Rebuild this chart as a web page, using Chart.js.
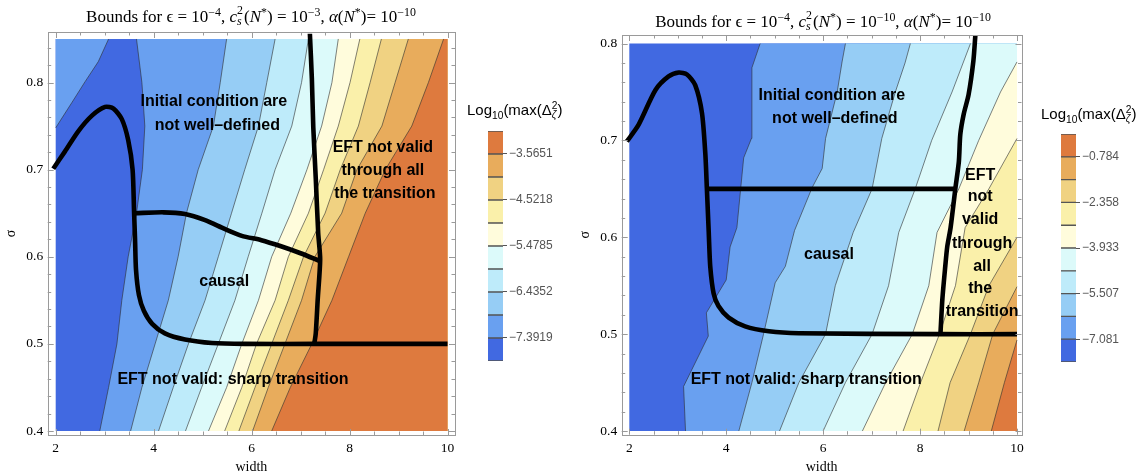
<!DOCTYPE html>
<html>
<head>
<meta charset="utf-8">
<script src="https://cdn.jsdelivr.net/npm/chart.js@4.4.1/dist/chart.umd.min.js"></script>
<style>
  html, body { margin: 0; padding: 0; background: #fff; }
  #wrap { position: relative; width: 1138px; height: 474px; overflow: hidden; background: #fff; }
  canvas { position: absolute; }
  .ptitle { position: absolute; font-family: "Liberation Serif", "Times New Roman", serif; font-size: 17px; white-space: nowrap; transform: translateX(-50%); line-height: 1; color: #000; }
  .ptitle sup, .ptitle sub { font-size: 70%; line-height: 0; }
  .ss { display: inline-block; vertical-align: -0.25em; line-height: 0.95; font-size: 70%; margin-right: 1px; }
  .ss span { display: block; }
  .ltitle { position: absolute; font-family: "Liberation Sans", Arial, sans-serif; font-size: 15px; white-space: nowrap; line-height: 1; color: #000; }
  .ltitle sub, .ltitle sup { font-size: 68%; line-height: 0; }
  .zz { display: inline-block; vertical-align: -0.3em; line-height: 0.9; font-size: 68%; }
  .zz span { display: block; }
</style>
</head>
<body>
<div id="wrap">
  <canvas id="mainL" width="462" height="474" style="left:0;top:0"></canvas>
  <canvas id="mainR" width="460" height="474" style="left:570px;top:0"></canvas>
  <canvas id="legL" width="100" height="290" style="left:470px;top:100px"></canvas>
  <canvas id="legR" width="98" height="290" style="left:1040px;top:100px"></canvas>

  <div class="ptitle" style="left:251px;top:5px">Bounds for ϵ = 10<sup>−4</sup>, <i>c</i><span class="ss"><span>2</span><span><i>s</i></span></span>(<i>N</i><sup>*</sup>) = 10<sup>−3</sup>, <i>α</i>(<i>N</i><sup>*</sup>)= 10<sup>−10</sup></div>
  <div class="ptitle" style="left:823px;top:10px">Bounds for ϵ = 10<sup>−4</sup>, <i>c</i><span class="ss"><span>2</span><span><i>s</i></span></span>(<i>N</i><sup>*</sup>) = 10<sup>−10</sup>, <i>α</i>(<i>N</i><sup>*</sup>)= 10<sup>−10</sup></div>

  <div class="ltitle" style="left:467px;top:101px">Log<sub>10</sub>(max(Δ<span class="zz"><span>2</span><span><i>ζ</i></span></span>)</div>
  <div class="ltitle" style="left:1041px;top:105px">Log<sub>10</sub>(max(Δ<span class="zz"><span>2</span><span><i>ζ</i></span></span>)</div>
</div>

<script>
// ===================== DATA =====================
// band colours, lowest level (blue) to highest (orange)
const bandColors = ['#4169E1', '#69A0F0', '#96CDF5', '#BEEBFA', '#DCFAFA',
                    '#FFFCDC', '#FAF0AA', '#F0D282', '#E8AC5C', '#DE7A3E'];

// axis ticks
const xTickValues = [2, 4, 6, 8, 10];
const xTickLabels = ['2', '4', '6', '8', '10'];
const yTickValues = [0.4, 0.5, 0.6, 0.7, 0.8];
const yTickLabels = ['0.4', '0.5', '0.6', '0.7', '0.8'];

// data domains
const leftXRange = [2, 10];
const leftYRange = [0.4, 0.85];
const rightXRange = [2, 10];
const rightYRange = [0.4, 0.8];

// ---- left panel: contour boundaries, x positions at these sigma levels ----
const leftLevelsY = [0.40, 0.45, 0.50, 0.55, 0.60, 0.65, 0.70, 0.75, 0.80, 0.85];
const leftC1X = [2.90, 3.08, 3.25, 3.35, 3.48, 3.65, 3.77, 3.82, 3.76, 3.65];
const leftC2X = [3.53, 3.76, 4.03, 4.30, 4.50, 4.67, 4.91, 5.22, 5.36, 5.49];
const leftC3X = [4.10, 4.40, 4.71, 5.05, 5.32, 5.59, 5.86, 6.14, 6.31, 6.48];
const leftC4X = [4.65, 4.98, 5.32, 5.66, 5.93, 6.21, 6.48, 6.82, 7.02, 7.16];
const leftC5X = [5.12, 5.49, 5.80, 6.14, 6.41, 6.80, 7.13, 7.43, 7.64, 7.77];
const leftC6X = [5.45, 5.80, 6.10, 6.48, 6.75, 7.16, 7.47, 7.77, 8.01, 8.21];
const leftC7X = [5.74, 6.07, 6.41, 6.75, 7.06, 7.50, 7.81, 8.18, 8.42, 8.65];
const leftC8X = [6.02, 6.34, 6.68, 7.02, 7.29, 7.84, 8.15, 8.66, 8.93, 9.20];
const leftC9X = [6.41, 6.79, 7.23, 7.64, 7.98, 8.32, 8.73, 9.27, 9.61, 9.92];
// upper-left corner lobe (second band)
const leftLobe = [[2.00, 0.748], [2.33, 0.777], [2.60, 0.801], [2.87, 0.824], [3.08, 0.85]];

// ---- left panel: black region boundaries ----
const leftBoundA = [[1.95, 0.701], [2.19, 0.721], [2.46, 0.744], [2.74, 0.762], [3.01, 0.772], [3.18, 0.770],
                    [3.35, 0.758], [3.48, 0.734], [3.57, 0.700], [3.60, 0.652], [3.62, 0.620], [3.64, 0.585],
                    [3.70, 0.556], [3.80, 0.538], [3.97, 0.523], [4.23, 0.512], [4.64, 0.505], [5.19, 0.501],
                    [5.87, 0.500], [7.29, 0.500], [10.0, 0.500]];
const leftBoundB = [[3.62, 0.650], [4.20, 0.651], [4.64, 0.649], [5.05, 0.642], [5.45, 0.632], [5.80, 0.624],
                    [6.20, 0.619], [6.60, 0.612], [7.00, 0.604], [7.40, 0.595]];
const leftBoundC = [[7.19, 0.856], [7.23, 0.805], [7.26, 0.748], [7.31, 0.690], [7.36, 0.627], [7.40, 0.597],
                    [7.35, 0.551], [7.31, 0.512], [7.28, 0.500]];

// ---- right panel: contour boundaries as (x, sigma) points ----
const rightC1 = [[3.16, 0.40], [3.12, 0.446], [3.63, 0.498], [3.59, 0.522], [4.00, 0.556], [4.08, 0.59],
                 [4.22, 0.61], [4.36, 0.682], [4.52, 0.702], [4.53, 0.775], [4.70, 0.80]];
const rightC2 = [[4.26, 0.40], [4.53, 0.45], [4.77, 0.50], [5.01, 0.553], [5.22, 0.57], [5.41, 0.607],
                 [5.77, 0.651], [5.98, 0.671], [6.05, 0.702], [6.29, 0.75], [6.39, 0.781], [6.46, 0.80]];
const rightC3 = [[5.10, 0.40], [5.50, 0.45], [6.05, 0.50], [6.25, 0.55], [6.62, 0.605], [7.01, 0.65],
                 [7.21, 0.702], [7.49, 0.75], [7.69, 0.78], [7.80, 0.80]];
const rightC4 = [[6.00, 0.40], [6.46, 0.45], [7.01, 0.50], [7.35, 0.55], [7.56, 0.605], [7.90, 0.65],
                 [8.24, 0.70], [8.66, 0.75], [9.04, 0.80]];
const rightC5 = [[6.81, 0.40], [7.29, 0.45], [7.84, 0.50], [8.18, 0.55], [8.35, 0.605], [8.80, 0.65],
                 [9.21, 0.70], [9.66, 0.75], [10.0, 0.781]];
const rightC6 = [[7.65, 0.40], [8.01, 0.45], [8.40, 0.50], [8.73, 0.55], [8.93, 0.61], [9.42, 0.65], [10.0, 0.702]];
const rightC7 = [[8.37, 0.40], [8.62, 0.45], [9.04, 0.50], [9.42, 0.55], [10.0, 0.60]];
const rightC8 = [[8.91, 0.40], [9.21, 0.45], [9.50, 0.50], [10.0, 0.549]];
const rightC9 = [[9.47, 0.40], [9.74, 0.45], [10.0, 0.494]];

// ---- right panel: black region boundaries ----
const rightBoundA = [[1.95, 0.699], [2.19, 0.716], [2.54, 0.752], [2.81, 0.766], [3.02, 0.770], [3.19, 0.768],
                     [3.36, 0.757], [3.50, 0.728], [3.57, 0.685], [3.60, 0.651], [3.64, 0.604], [3.67, 0.570],
                     [3.74, 0.542], [3.84, 0.529], [4.05, 0.517], [4.39, 0.508], [4.88, 0.503], [5.50, 0.501],
                     [8.42, 0.500], [10.0, 0.500]];
const rightBoundB = [[3.64, 0.650], [8.73, 0.650]];
const rightBoundC = [[9.14, 0.808], [9.10, 0.782], [9.00, 0.747], [8.90, 0.727], [8.83, 0.706], [8.80, 0.678],
                     [8.73, 0.651], [8.63, 0.610], [8.56, 0.590], [8.52, 0.570], [8.46, 0.536], [8.42, 0.500]];

// ---- annotations: [text, x, sigma] ----
const leftNotes = [
  ['Initial condition are', 5.23, 0.778], ['not well\u2013defined', 5.30, 0.751],
  ['EFT not valid', 8.68, 0.725], ['through all', 8.68, 0.699], ['the transition', 8.72, 0.672],
  ['causal', 5.44, 0.571], ['EFT not valid: sharp transition', 5.62, 0.459]
];
const rightNotes = [
  ['Initial condition are', 6.18, 0.746], ['not well\u2013defined', 6.24, 0.723],
  ['EFT', 9.24, 0.664], ['not', 9.24, 0.642], ['valid', 9.24, 0.618], ['through', 9.28, 0.593],
  ['all', 9.28, 0.570], ['the', 9.24, 0.547], ['transition', 9.28, 0.523],
  ['causal', 6.12, 0.582], ['EFT not valid: sharp transition', 5.65, 0.453]
];

// ---- colour-bar legends: contour level boundaries and labelled levels ----
const leftLegendLevels = [-7.8703, -7.3919, -6.9136, -6.4352, -5.9569, -5.4785, -5.0002, -4.5218, -4.0435, -3.5651, -3.0868];
const leftLegendTicks = [-7.3919, -6.4352, -5.4785, -4.5218, -3.5651];
const leftLegendLabels = ['\u22127.3919', '\u22126.4352', '\u22125.4785', '\u22124.5218', '\u22123.5651'];
const rightLegendLevels = [-7.868, -7.081, -6.294, -5.507, -4.720, -3.933, -3.146, -2.358, -1.571, -0.784, 0.003];
const rightLegendTicks = [-7.081, -5.507, -3.933, -2.358, -0.784];
const rightLegendLabels = ['\u22127.081', '\u22125.507', '\u22123.933', '\u22122.358', '\u22120.784'];

// ===================== BUILD =====================
const SERIF = '"Liberation Serif", "Times New Roman", serif';
const SANS = '"Liberation Sans", Arial, sans-serif';

function zipY(xs, ys) { return xs.map((x, i) => [x, ys[i]]); }
function toXY(pts) { return pts.map(p => ({ x: p[0], y: p[1] })); }
function regionRightOf(pts, xr, yr) {
  const poly = toXY(pts);
  const last = pts[pts.length - 1];
  if (last[1] >= yr[1] - 1e-9) poly.push({ x: xr[1], y: yr[1] });
  poly.push({ x: xr[1], y: yr[0] });
  return poly;
}
function lobeRegion(pts, xr, yr) {
  const poly = toXY(pts);
  poly.push({ x: xr[0], y: yr[1] });
  return poly;
}
function rectRegion(xr, yr) {
  return [{ x: xr[0], y: yr[0] }, { x: xr[0], y: yr[1] }, { x: xr[1], y: yr[1] }, { x: xr[1], y: yr[0] }];
}

function buildDatasets(contours, lobes, bounds, xr, yr) {
  const ds = [];
  ds.push({ data: rectRegion(xr, yr), backgroundColor: bandColors[0], fill: 'shape',
            borderColor: 'rgba(0,0,0,0)', borderWidth: 0, order: 100 });
  lobes.forEach(l => ds.push({ data: lobeRegion(l, xr, yr), backgroundColor: bandColors[1], fill: 'shape',
            borderColor: 'rgba(0,0,0,0)', borderWidth: 0, order: 99 }));
  contours.forEach((c, k) => ds.push({ data: regionRightOf(c, xr, yr), backgroundColor: bandColors[k + 1],
            fill: 'shape', borderColor: 'rgba(0,0,0,0)', borderWidth: 0, order: 90 - k }));
  contours.concat(lobes).forEach(c => ds.push({ data: toXY(c), borderColor: 'rgba(45,45,45,0.75)',
            borderWidth: 0.8, fill: false, order: 20 }));
  bounds.forEach(b => ds.push({ data: toXY(b), borderColor: '#000', borderWidth: 4.6, fill: false,
            tension: 0.25, borderCapStyle: 'butt', borderJoinStyle: 'round', order: 5 }));
  ds.forEach(d => { d.showLine = true; d.pointRadius = 0; d.pointHoverRadius = 0; d.clip = 4; });
  return ds;
}

const framePlugin = {
  id: 'frame',
  afterDatasetsDraw(chart, args, opts) {
    const { ctx, chartArea: a, scales: { x, y } } = chart;
    ctx.save();
    ctx.font = 'bold 16px ' + SANS;
    ctx.fillStyle = '#000';
    ctx.textAlign = 'center';
    ctx.textBaseline = 'middle';
    opts.notes.forEach(n => ctx.fillText(n[0], x.getPixelForValue(n[1]), y.getPixelForValue(n[2])));
    ctx.strokeStyle = '#9a9a9a';
    ctx.lineWidth = 1;
    ctx.strokeRect(Math.round(a.left) + 0.5, Math.round(a.top) + 0.5,
                   Math.round(a.right) - Math.round(a.left), Math.round(a.bottom) - Math.round(a.top));
    const isMajor = (v, arr) => arr.some(m => Math.abs(m - v) < 1e-6);
    ctx.beginPath();
    for (let v = opts.xMinorFrom; v <= opts.xMinorTo + 1e-9; v += opts.xMinorStep) {
      const vv = Math.round(v * 1000) / 1000;
      const px = Math.round(x.getPixelForValue(vv)) + 0.5;
      const len = isMajor(vv, xTickValues) ? 6 : 3.5;
      ctx.moveTo(px, a.bottom); ctx.lineTo(px, a.bottom - len);
      ctx.moveTo(px, a.top); ctx.lineTo(px, a.top + len);
    }
    for (let v = opts.yMinorFrom; v <= y.max + 1e-9; v += opts.yMinorStep) {
      const vv = Math.round(v * 1000) / 1000;
      const py = Math.round(y.getPixelForValue(vv)) + 0.5;
      const len = isMajor(vv, yTickValues) ? 6 : 3.5;
      ctx.moveTo(a.left, py); ctx.lineTo(a.left + len, py);
      ctx.moveTo(a.right, py); ctx.lineTo(a.right - len, py);
    }
    ctx.stroke();
    ctx.restore();
  }
};

function mainChart(id, datasets, xr, yr, lay) {
  return new Chart(document.getElementById(id), {
    type: 'scatter',
    data: { datasets },
    plugins: [framePlugin],
    options: {
      responsive: false, animation: false, events: [],
      layout: { padding: { left: 0, right: lay.padRight, top: lay.top, bottom: 0 } },
      plugins: {
        legend: { display: false }, tooltip: { enabled: false },
        frame: { notes: lay.notes, xMinorStep: 0.5, xMinorFrom: xr[0], xMinorTo: xr[1],
                 yMinorStep: 0.02, yMinorFrom: yr[0] }
      },
      scales: {
        x: {
          type: 'linear', min: lay.xmin, max: lay.xmax,
          afterBuildTicks: s => { s.ticks = xTickValues.map(v => ({ value: v })); },
          afterFit: s => { s.height = lay.xAxisH; },
          ticks: { autoSkip: false, maxRotation: 0, padding: 5.5, color: '#000',
                   font: { family: SERIF, size: 13.5 },
                   callback: (v) => xTickLabels[xTickValues.indexOf(v)] },
          grid: { display: false, drawTicks: false }, border: { display: false },
          title: { display: true, text: 'width', color: '#000', font: { family: SERIF, size: 14, lineHeight: 1 },
                   padding: { top: 0, bottom: 0 } }
        },
        y: {
          type: 'linear', min: lay.ymin, max: lay.ymax,
          afterBuildTicks: s => { s.ticks = yTickValues.map(v => ({ value: v })); },
          afterFit: s => { s.width = lay.yAxisW; },
          ticks: { autoSkip: false, padding: 4.5, color: '#000',
                   font: { family: SERIF, size: 13.5 },
                   callback: (v) => yTickLabels[yTickValues.findIndex(t => Math.abs(t - v) < 1e-9)] },
          grid: { display: false, drawTicks: false }, border: { display: false },
          title: { display: true, text: '\u03c3', color: '#000', font: { family: SERIF, size: 14, lineHeight: 1 },
                   padding: { top: lay.sigmaPad, bottom: 0 } }
        }
      }
    }
  });
}

const leftContours = [leftC1X, leftC2X, leftC3X, leftC4X, leftC5X, leftC6X, leftC7X, leftC8X, leftC9X]
  .map(xs => zipY(xs, leftLevelsY));
const rightContours = [rightC1, rightC2, rightC3, rightC4, rightC5, rightC6, rightC7, rightC8, rightC9];

mainChart('mainL',
  buildDatasets(leftContours, [leftLobe], [leftBoundA, leftBoundB, leftBoundC], leftXRange, leftYRange),
  leftXRange, leftYRange,
  { xmin: 1.8367, xmax: 10.153, ymin: 0.3954, ymax: 0.8580, yAxisW: 47.7, xAxisH: 39, padRight: 7, top: 32,
    sigmaPad: 4.5, notes: leftNotes });

mainChart('mainR',
  buildDatasets(rightContours, [], [rightBoundA, rightBoundB, rightBoundC], rightXRange, rightYRange),
  rightXRange, rightYRange,
  { xmin: 1.843, xmax: 10.093, ymin: 0.3962, ymax: 0.8088, yAxisW: 51.7, xAxisH: 39.3, padRight: 8.5, top: 35,
    sigmaPad: 8.5, notes: rightNotes });

function legendChart(id, levels, ticks, labels, lay) {
  const datasets = [];
  for (let i = 0; i < levels.length - 1; i++) {
    datasets.push({ data: [[levels[i], levels[i + 1]]], backgroundColor: bandColors[i],
      borderColor: '#555', borderWidth: { top: 1, bottom: 1, left: 0, right: 0 }, borderSkipped: false,
      grouped: false, barPercentage: 1, categoryPercentage: 1 });
  }
  return new Chart(document.getElementById(id), {
    type: 'bar',
    data: { labels: [''], datasets },
    options: {
      responsive: false, animation: false, events: [],
      layout: { padding: { left: lay.left, right: 0, top: lay.top, bottom: lay.bottom } },
      plugins: { legend: { display: false }, tooltip: { enabled: false } },
      scales: {
        x: { display: false },
        y: {
          position: 'right', min: levels[0], max: levels[levels.length - 1],
          afterBuildTicks: s => { s.ticks = ticks.map(v => ({ value: v })); },
          afterFit: s => { s.width = lay.axisW; },
          ticks: { autoSkip: false, padding: 2, color: '#555', font: { family: SANS, size: 12 },
                   callback: (v) => labels[ticks.findIndex(t => Math.abs(t - v) < 1e-6)] },
          grid: { drawOnChartArea: false, drawTicks: true, tickLength: 4, color: '#555', lineWidth: 1 },
          border: { display: false }
        }
      }
    }
  });
}

legendChart('legL', leftLegendLevels, leftLegendTicks, leftLegendLabels, { left: 18, top: 31, bottom: 29, axisW: 67 });
legendChart('legR', rightLegendLevels, rightLegendTicks, rightLegendLabels, { left: 21, top: 34, bottom: 28, axisW: 62 });
</script>
</body>
</html>
